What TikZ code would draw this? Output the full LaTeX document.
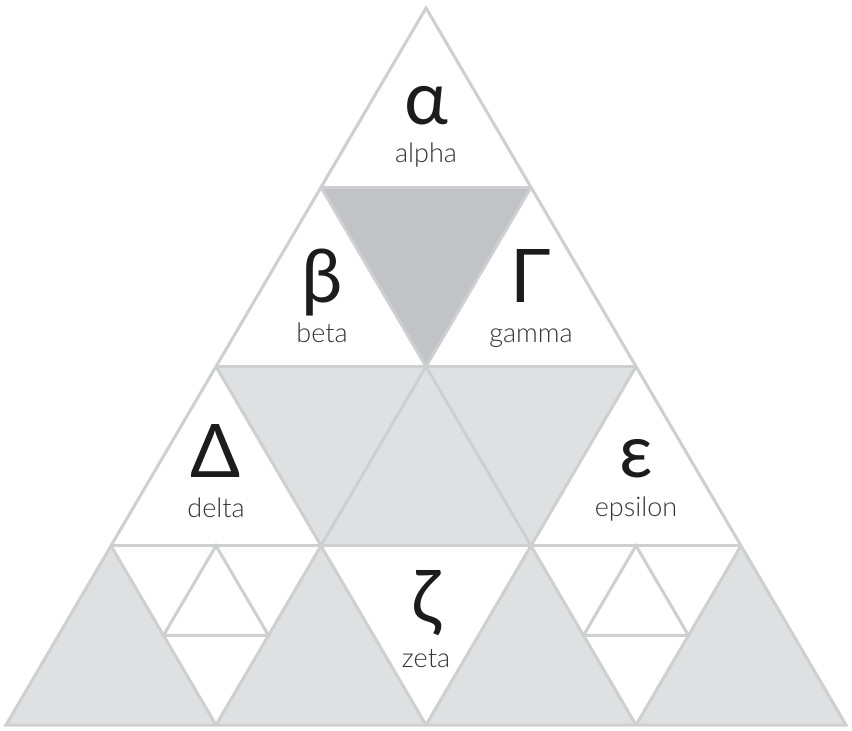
\documentclass[tikz,border=0pt]{standalone}
\usepackage{fontspec}
\setmainfont{Lato}
\newfontfamily\lightfont{Lato Light}
\usetikzlibrary{calc}
\definecolor{edgegray}{HTML}{CECFD0}
\definecolor{lightfill}{HTML}{DFE0E2}
\definecolor{darkfill}{HTML}{C2C3C6}
\definecolor{ink}{HTML}{1C1C1C}
\definecolor{labelink}{HTML}{333333}
\tikzset{
  edge/.style={draw=edgegray,line width=3pt,line join=miter,line cap=butt},
  bigletter/.style={font=\fontsize{74}{74}\selectfont,text=ink,anchor=base,inner sep=0pt},
  namelabel/.style={font=\lightfont\fontsize{27}{27}\selectfont,text=labelink,anchor=base,inner sep=0pt}
}
\begin{document}
\begin{tikzpicture}[x=1pt,y=-1pt]
\useasboundingbox (0,0) rectangle (852,731);
\fill[white] (0,0) rectangle (852,731);
\def\rowh{179.25}
\foreach \i in {0,...,4}{
  \foreach \j in {0,...,\i}{
    \coordinate (p\i\j) at ({426+(2*\j-\i)*105},{8+\i*\rowh});
  }
}
% fills
\fill[darkfill] (p10)--(p11)--(p21)--cycle;
\fill[lightfill] (p20)--(p21)--(p31)--cycle;
\fill[lightfill] (p21)--(p22)--(p32)--cycle;
\fill[lightfill] (p21)--(p31)--(p32)--cycle;
\fill[lightfill] (p30)--(p40)--(p41)--cycle;
\fill[lightfill] (p31)--(p41)--(p42)--cycle;
\fill[lightfill] (p32)--(p42)--(p43)--cycle;
\fill[lightfill] (p33)--(p43)--(p44)--cycle;
% lattice lines
\draw[edge] (p10)--(p11) (p20)--(p22) (p30)--(p33);
\draw[edge] (p11)--(p41) (p22)--(p42) (p33)--(p43);
\draw[edge] (p10)--(p43) (p20)--(p42) (p30)--(p41);
% inner subdivisions
\coordinate (la) at ($(p30)!0.5!(p31)$);
\coordinate (lb) at ($(p30)!0.5!(p41)$);
\coordinate (lc) at ($(p31)!0.5!(p41)$);
\coordinate (ra) at ($(p32)!0.5!(p33)$);
\coordinate (rb) at ($(p32)!0.5!(p43)$);
\coordinate (rc) at ($(p33)!0.5!(p43)$);
\draw[edge] (la)--(lb)--(lc)--cycle;
\draw[edge] (ra)--(rb)--(rc)--cycle;
% outer triangle
\draw[edge] (p00)--(p40)--(p44)--cycle;
% labels
\node[bigletter] (alpha) at (426,124) {α};
\node[namelabel] (alphaname) at (426,162) {alpha};
\node[bigletter] (beta) at (322,302) {β};
\node[namelabel] (betaname) at (322,342) {beta};
\node[bigletter] (gamma) at (531,302) {Γ};
\node[namelabel] (gammaname) at (531,342) {gamma};
\node[bigletter] (delta) at (216,477) {Δ};
\node[namelabel] (deltaname) at (216,517) {delta};
\node[bigletter] (epsilon) at (636,477) {ε};
\node[namelabel] (epsilonname) at (636,516) {epsilon};
\node[bigletter] (zeta) at (426,623) {ζ};
\node[namelabel] (zetaname) at (426,667) {zeta};
\end{tikzpicture}
\end{document}
